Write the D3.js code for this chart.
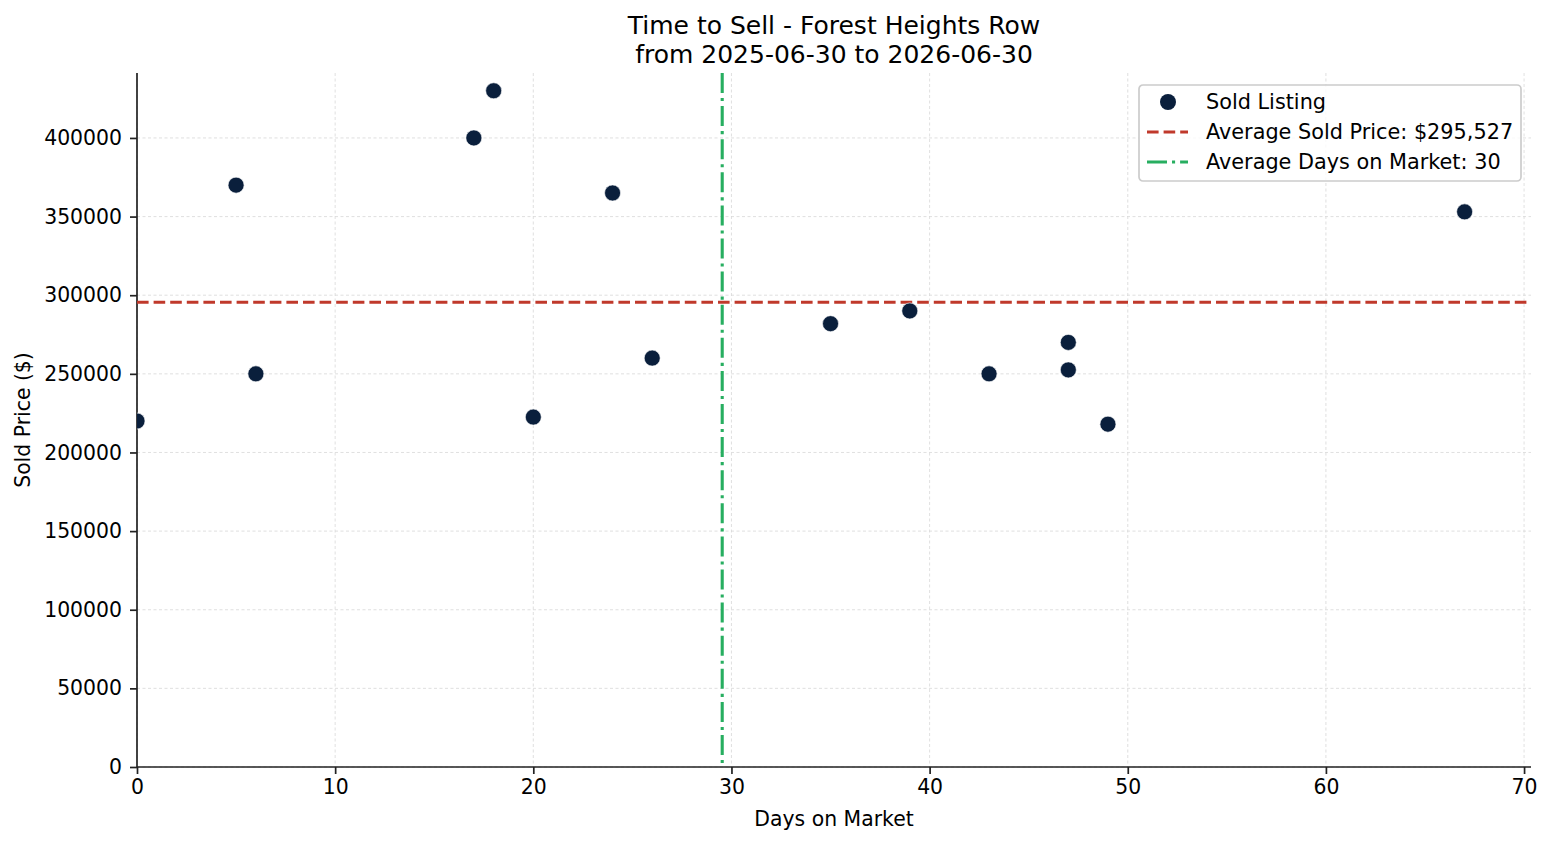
<!DOCTYPE html>
<html>
<head>
<meta charset="utf-8">
<script src="https://cdn.jsdelivr.net/npm/d3@7"></script>
<style>
  body { margin: 0; background: #fff; }
  svg text { font-family: "DejaVu Sans", sans-serif; fill: #000; }
</style>
</head>
<body>
<div id="chart"></div>
<script>
// sold listings
const daysOnMarket = [0, 5, 6, 17, 18, 20, 24, 26, 35, 39, 43, 47, 47, 49, 67];
const soldPrices = [220000, 370000, 250000, 400000, 430000, 222500, 365000, 260000,
  281900, 290000, 250000, 270000, 252505, 218000, 353000];
const xTicks = [0, 10, 20, 30, 40, 50, 60, 70];
const yTicks = [0, 50000, 100000, 150000, 200000, 250000, 300000, 350000, 400000];
const titleLines = ["Time to Sell - Forest Heights Row", "from 2025-06-30 to 2026-06-30"];

const data = daysOnMarket.map((d, i) => ({ days: d, price: soldPrices[i] }));
const avgPrice = d3.mean(soldPrices);
const avgDays = d3.mean(daysOnMarket);

const W = 1553, H = 845;
const margin = { top: 73, right: 22, bottom: 78, left: 137 },
  width = W - margin.left - margin.right,
  height = H - margin.top - margin.bottom;

const svg = d3.select("#chart").append("svg")
  .attr("width", W).attr("height", H);

const g = svg.append("g")
  .attr("transform", `translate(${margin.left},${margin.top})`);

const x = d3.scaleLinear().domain([0, 70.35]).range([0, width]);
const y = d3.scaleLinear().domain([0, 441300]).range([height, 0]);

svg.append("defs").append("clipPath").attr("id", "plot-clip")
  .append("rect").attr("width", width).attr("height", height);

// grid
const grid = g.append("g").attr("stroke", "#cfcfcf").attr("stroke-width", 0.8)
  .attr("stroke-dasharray", "3,2.5").attr("opacity", 0.8);
grid.selectAll(".gx").data(xTicks).enter().append("line")
  .attr("x1", d => x(d)).attr("x2", d => x(d)).attr("y1", 0).attr("y2", height);
grid.selectAll(".gy").data(yTicks).enter().append("line")
  .attr("x1", 0).attr("x2", width).attr("y1", d => y(d)).attr("y2", d => y(d));

// axes
const xAxis = g.append("g").attr("transform", `translate(0,${height})`)
  .call(d3.axisBottom(x).tickValues(xTicks).tickSize(7).tickPadding(6).tickFormat(d3.format("d")));
const yAxis = g.append("g")
  .call(d3.axisLeft(y).tickValues(yTicks).tickSize(7).tickPadding(8).tickFormat(d3.format("d")));
[xAxis, yAxis].forEach(a => {
  a.select(".domain").attr("stroke", "#222").attr("stroke-width", 1.7);
  a.selectAll(".tick line").attr("stroke", "#222").attr("stroke-width", 1.7);
  a.selectAll("text").style("font-size", "20.4px").attr("fill", "#000");
});
// spine should span the full plot (d3 adds outer ticks otherwise)
xAxis.select(".domain").attr("d", `M0,0H${width}`);
yAxis.select(".domain").attr("d", `M0,0V${height}`);

// average lines
g.append("line")
  .attr("x1", 0).attr("x2", width)
  .attr("y1", y(avgPrice)).attr("y2", y(avgPrice))
  .attr("stroke", "#c0392b").attr("stroke-width", 3.1)
  .attr("stroke-dasharray", "11.6,5");
g.append("line")
  .attr("x1", x(avgDays)).attr("x2", x(avgDays))
  .attr("y1", 0).attr("y2", height)
  .attr("stroke", "#27ae60").attr("stroke-width", 3.1)
  .attr("stroke-dasharray", "20,5,3.1,5");

// points
g.append("g").attr("clip-path", "url(#plot-clip)")
  .selectAll(".dot").data(data).enter().append("circle")
  .attr("class", "dot")
  .attr("cx", d => x(d.days))
  .attr("cy", d => y(d.price))
  .attr("r", 8)
  .attr("fill", "#0a1f3c")
  .attr("stroke", "#fff").attr("stroke-width", 0.6);

// title
svg.append("text")
  .attr("x", margin.left + width / 2).attr("y", 34)
  .attr("text-anchor", "middle").style("font-size", "25px")
  .selectAll("tspan").data(titleLines).enter().append("tspan")
  .attr("x", margin.left + width / 2)
  .attr("dy", (d, i) => i === 0 ? 0 : 28.5)
  .text(d => d);

// axis labels
svg.append("text")
  .attr("x", margin.left + width / 2).attr("y", 826)
  .attr("text-anchor", "middle").style("font-size", "20.4px")
  .text("Days on Market");
svg.append("text")
  .attr("transform", `translate(30,${margin.top + height / 2}) rotate(-90)`)
  .attr("text-anchor", "middle").style("font-size", "20.4px")
  .text("Sold Price ($)");

// legend
const legend = svg.append("g").attr("transform", "translate(1139,85)");
legend.append("rect")
  .attr("width", 382).attr("height", 96).attr("rx", 4)
  .attr("fill", "#fff").attr("fill-opacity", 0.8)
  .attr("stroke", "#cccccc").attr("stroke-width", 1.7);
const items = [
  { label: "Sold Listing", type: "dot" },
  { label: `Average Sold Price: $${d3.format(",.0f")(avgPrice)}`, type: "line", color: "#c0392b", dash: "11.6,5" },
  { label: `Average Days on Market: ${Math.round(avgDays)}`, type: "line", color: "#27ae60", dash: "20,5,3.1,5" }
];
const li = legend.selectAll(".item").data(items).enter().append("g")
  .attr("transform", (d, i) => `translate(0,${17 + i * 30})`);
li.filter(d => d.type === "dot").append("circle")
  .attr("cx", 29).attr("cy", 0).attr("r", 8).attr("fill", "#0a1f3c");
li.filter(d => d.type === "line").append("line")
  .attr("x1", 8).attr("x2", 49).attr("y1", 0).attr("y2", 0)
  .attr("stroke", d => d.color).attr("stroke-width", 3.1)
  .attr("stroke-dasharray", d => d.dash);
li.append("text")
  .attr("x", 67).attr("y", 0).attr("dy", "0.35em")
  .style("font-size", "20.8px")
  .text(d => d.label);
</script>
</body>
</html>
